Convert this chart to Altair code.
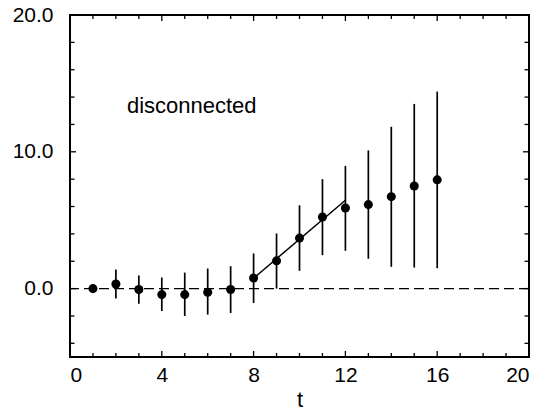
import altair as alt
import pandas as pd

# data
t_vals = [1, 2, 3, 4, 5, 6, 7, 8, 9, 10, 11, 12, 13, 14, 15, 16]
y_vals = [0.0, 0.34, -0.07, -0.44, -0.44, -0.27, -0.07, 0.78, 2.03, 3.69, 5.23, 5.89, 6.14, 6.72, 7.50, 7.95]
y_hi = [0.0, 1.39, 0.95, 0.81, 1.17, 1.47, 1.64, 2.57, 4.03, 6.09, 8.00, 8.97, 10.10, 11.83, 13.50, 14.40]
y_lo = [0.0, -0.73, -1.10, -1.64, -2.00, -1.90, -1.78, -1.05, 0.00, 1.30, 2.44, 2.76, 2.18, 1.59, 1.54, 1.49]

fit_t = [8, 12]
fit_y = [0.76, 6.46]

x_label_vals = [0, 4, 8, 12, 16, 20]
x_minor_vals = [1, 2, 3, 5, 6, 7, 9, 10, 11, 13, 14, 15, 17, 18, 19]
y_label_vals = [0, 10, 20]
y_minor_vals = [-4, -2, 2, 4, 6, 8, 12, 14, 16, 18]

W, H = 459, 342
FONT = "Liberation Sans"

df = pd.DataFrame({"t": t_vals, "y": y_vals, "lo": y_lo, "hi": y_hi})
fit = pd.DataFrame({"t": fit_t, "y": fit_y})
xmaj = pd.DataFrame({"v": x_label_vals})
xmin = pd.DataFrame({"v": x_minor_vals})
ymaj = pd.DataFrame({"v": y_label_vals})
ymin = pd.DataFrame({"v": y_minor_vals})

xs = alt.Scale(domain=[0, 20], nice=False, zero=False)
ys = alt.Scale(domain=[-5, 20], nice=False, zero=False)

xaxis = alt.Axis(values=x_label_vals, format="d", ticks=False, domain=False, grid=False,
                 labelFont=FONT, labelFontSize=21, labelColor="black", labelPadding=7,
                 title="t", titleFont=FONT, titleFontSize=22, titleFontWeight="normal",
                 titleColor="black", titlePadding=4)
yaxis = alt.Axis(values=y_label_vals, format=".1f", ticks=False, domain=False, grid=False,
                 labelFont=FONT, labelFontSize=21, labelColor="black", labelPadding=17,
                 title=None)

base = alt.Chart(df)

errbars = base.mark_rule(color="black", strokeWidth=1.7).encode(
    x=alt.X("t:Q", scale=xs, axis=xaxis),
    y=alt.Y("lo:Q", scale=ys, axis=yaxis),
    y2="hi:Q",
)

zero_line = alt.Chart(pd.DataFrame({"z": [0]})).mark_rule(
    color="black", strokeWidth=1.2, strokeDash=[10, 5]
).encode(y=alt.Y("z:Q", scale=ys))

fit_line = alt.Chart(fit).mark_line(color="black", strokeWidth=1.5).encode(
    x=alt.X("t:Q", scale=xs), y=alt.Y("y:Q", scale=ys)
)

points = base.mark_circle(color="black", opacity=1, size=82).encode(
    x=alt.X("t:Q", scale=xs), y=alt.Y("y:Q", scale=ys)
)

label = alt.Chart(pd.DataFrame({"a": [0]})).mark_text(
    text="disconnected", font=FONT, fontSize=22, align="left", baseline="alphabetic", color="black"
).encode(x=alt.datum(2.48, scale=xs), y=alt.datum(12.81, scale=ys))


def xticks(d, length):
    bot = alt.Chart(d).mark_rule(color="black", strokeWidth=1.3).encode(
        x=alt.X("v:Q", scale=xs), y=alt.value(H), y2=alt.value(H - length))
    top = alt.Chart(d).mark_rule(color="black", strokeWidth=1.3).encode(
        x=alt.X("v:Q", scale=xs), y=alt.value(0), y2=alt.value(length))
    return bot + top


def yticks(d, length):
    left = alt.Chart(d).mark_rule(color="black", strokeWidth=1.3).encode(
        y=alt.Y("v:Q", scale=ys), x=alt.value(0), x2=alt.value(length))
    right = alt.Chart(d).mark_rule(color="black", strokeWidth=1.3).encode(
        y=alt.Y("v:Q", scale=ys), x=alt.value(W), x2=alt.value(W - length))
    return left + right


chart = alt.layer(
    errbars, zero_line, fit_line, points, label,
    xticks(xmaj, 6), xticks(xmin, 4), yticks(ymaj, 6), yticks(ymin, 4.5),
).properties(
    width=W, height=H,
    background="white",
    autosize=alt.AutoSizeParams(type="none"),
    padding={"left": 70, "top": 15, "right": 19, "bottom": 55},
).configure_view(stroke="black", strokeWidth=2)

chart.save("out.html", embed_options={"renderer": "svg", "actions": False})
